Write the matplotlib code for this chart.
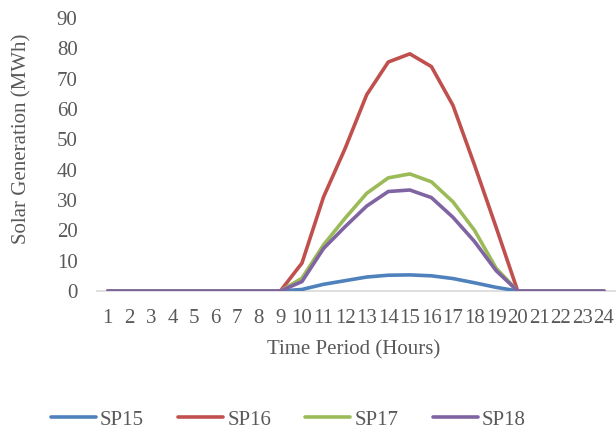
import numpy as np
import matplotlib.pyplot as plt

hours = np.arange(1, 25)
sp15 = [0, 0, 0, 0, 0, 0, 0, 0, 0, 0.5, 2.2, 3.4, 4.6, 5.2, 5.3, 5.0, 4.1, 2.7, 1.2, 0, 0, 0, 0, 0]
sp16 = [0, 0, 0, 0, 0, 0, 0, 0, 0, 9.2, 31, 47, 64.7, 75.5, 78.2, 74, 61.2, 41.5, 21, 0, 0, 0, 0, 0]
sp17 = [0, 0, 0, 0, 0, 0, 0, 0, 0, 4.2, 15.2, 24, 32.2, 37.3, 38.6, 36, 29.4, 20, 7.5, 0, 0, 0, 0, 0]
sp18 = [0, 0, 0, 0, 0, 0, 0, 0, 0, 3.1, 14, 21.2, 28, 32.8, 33.3, 30.8, 24.3, 16.3, 6.7, 0, 0, 0, 0, 0]

series = [("SP15", sp15, "#4F81BD"), ("SP16", sp16, "#C0504D"),
          ("SP17", sp17, "#9BBB59"), ("SP18", sp18, "#8064A2")]

plt.rcParams['font.family'] = ['Liberation Serif', 'DejaVu Serif']
txt = '#595959'

fig = plt.figure(figsize=(6.16, 4.30), dpi=100)
ax = fig.add_axes([0.1575, 0.3233, 0.8405, 0.6347])

for name, vals, col in series:
    ax.plot(hours, vals, color=col, lw=2.6, label=name, solid_capstyle='round', solid_joinstyle='round')

ax.set_xlim(0.5, 24.5)
ax.set_ylim(0, 90)
ax.set_xticks(hours)
ax.set_xticklabels([str(h) for h in hours])
ax.set_yticks(np.arange(0, 91, 10))
for s in ['top', 'right', 'left']:
    ax.spines[s].set_visible(False)
ax.spines['bottom'].set_color('#D9D9D9')
ax.spines['bottom'].set_linewidth(1.2)
ax.spines['bottom'].set_zorder(0)
ax.tick_params(axis='both', length=0, labelsize=15, colors=txt)
ax.tick_params(axis='x', pad=13)
ax.tick_params(axis='y', pad=14)

fig.text(22 / 616, 1 - 139 / 430, 'Solar Generation (MWh)', rotation=90,
         ha='center', va='center', fontsize=15, color=txt)
fig.text(354 / 616, 1 - 350 / 430, 'Time Period (Hours)', ha='center', va='center',
         fontsize=15, color=txt)

fig.legend(loc='center', bbox_to_anchor=(0.468, 1 - 420 / 430), ncol=4, frameon=False,
           fontsize=15, handlelength=2.15, handletextpad=0.2, columnspacing=1.65,
           labelcolor=txt)

fig.savefig('out.png', dpi=100)
